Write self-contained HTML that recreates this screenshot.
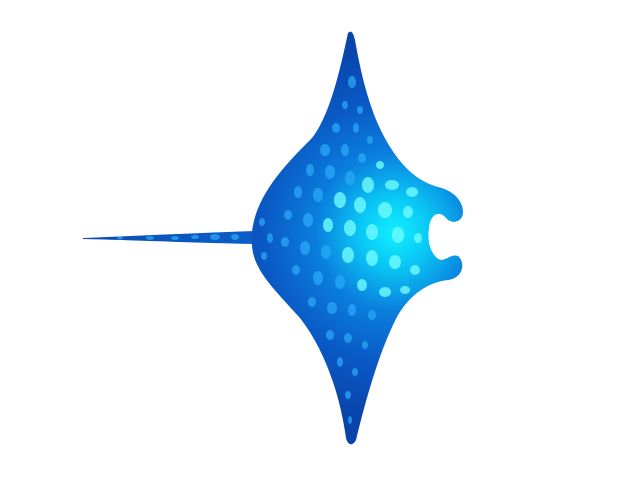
<!DOCTYPE html>
<html>
<head>
<meta charset="utf-8">
<style>
html,body{margin:0;padding:0;background:#fff;}
svg{display:block;}
</style>
</head>
<body>
<svg width="640" height="480" viewBox="0 0 640 480">
  <defs>
    <radialGradient id="glow" cx="395" cy="232" r="190" gradientUnits="userSpaceOnUse">
      <stop offset="0" stop-color="#12f0ff"/>
      <stop offset="0.18" stop-color="#0ac8f5"/>
      <stop offset="0.42" stop-color="#0a7edd"/>
      <stop offset="0.7" stop-color="#0a58c4"/>
      <stop offset="1" stop-color="#0944aa"/>
    </radialGradient>
    <linearGradient id="tailg" x1="0" y1="0" x2="1" y2="0">
      <stop offset="0" stop-color="#0a4cb4"/>
      <stop offset="1" stop-color="#0b5ec8"/>
    </linearGradient>
  </defs>
  <path fill="url(#tailg)"
    d="M83,238 C130,236 200,233 256,231 L256,244 C200,243 130,240 83,239 Z"/>
  <path fill="url(#glow)"
    d="M252,232
       C256,195 285,165 312,138
       C330,115 340,70 348,33
       C351,30 353,32 355,40
       C362,80 372,120 392,150
       C405,170 420,182 438,187
       C452,190 463,200 463,212
       C463,222 452,225 446,218
       C438,209 430,216 429,228
       C427,240 430,252 437,258
       C444,264 450,253 458,256
       C466,263 463,278 448,280
       C428,282 410,295 398,315
       C382,345 368,390 356,440
       C353,446 348,446 346,438
       C340,395 325,350 300,318
       C275,290 253,270 252,245 Z"/>
  <g id="spots"></g>
</svg>
<script>
var spots=[
 [352,82,4,6],[345,105,3,4],[360,110,3,4],[336,128,4,5],[356,128,3,5],[370,140,3,4],[325,150,5,6],[345,150,4,6],[362,158,4,5],[380,165,4,4],
 [310,170,4,6],[330,172,5,7],[350,178,5,7],[368,185,6,8],[392,185,7,5],[412,192,6,5],[298,192,4,6],[318,195,5,7],[340,200,6,8],[360,205,6,8],
 [385,210,7,8],[408,212,5,6],[288,215,4,5],[308,220,5,7],[328,225,5,7],[350,228,6,8],[372,232,6,8],[398,235,6,8],[418,238,4,5],
 [285,242,4,5],[305,248,5,7],[326,252,5,7],[348,255,6,8],[372,258,6,8],[395,262,6,7],[415,270,5,5],[296,270,4,5],[318,278,5,7],
 [340,282,5,7],[362,285,5,6],[385,292,6,5],[405,290,5,4],[312,302,4,5],[332,308,5,6],[352,310,4,6],[372,315,4,5],[330,335,4,5],
 [348,338,4,5],[365,345,3,4],[340,362,3,5],[355,372,3,4],[348,395,3,4],[350,420,2,4],[270,238,3,5],[262,222,3,4],[264,256,3,4],
 [150,238,4,2],[175,238,4,2],[195,237,4,2],[215,237,5,3],[235,237,4,3],[120,238,3,1.5]
];
var g=document.getElementById('spots');
spots.forEach(function(s,i){
  var e=document.createElementNS('http://www.w3.org/2000/svg','ellipse');
  
  
  e.setAttribute('cx',s[0]);e.setAttribute('cy',s[1]);
  e.setAttribute('rx',s[2]);e.setAttribute('ry',s[3]);
  var d=Math.hypot(s[0]-395,s[1]-232);
  e.setAttribute('fill',d<70?'#6ffbff':'#2aa8f5');
  e.setAttribute('opacity',d<70?0.8:0.75);
  g.appendChild(e);
});
</script>
</body>
</html>
